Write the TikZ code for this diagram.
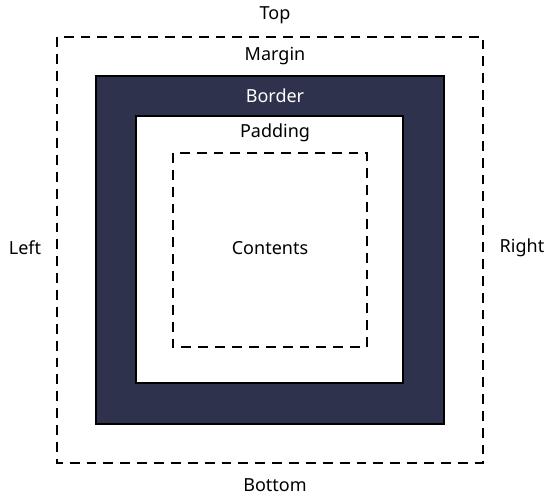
\documentclass[tikz,border=0pt]{standalone}
\usepackage{fontspec}
\setmainfont{Noto Sans}
\usetikzlibrary{positioning}
\definecolor{boxNavy}{RGB}{46,50,77}
\tikzset{
  dashbox/.style={draw=black, line width=1.5pt, dash pattern=on 7pt off 5pt},
  solidbox/.style={draw=black, line width=1.4pt},
  lbl/.style={font=\fontsize{12.8}{15}\selectfont, inner sep=0pt}
}

\begin{document}
\begin{tikzpicture}[x=0.025cm, y=-0.025cm]
				\useasboundingbox (0,0) rectangle (550,498);
				% Margin area
				\draw[dashbox] (57,37) rectangle (483,463);
				% Border and padding
				\fill[boxNavy, solidbox] (96,76) rectangle (444,424);
				\fill[white, solidbox] (136,116) rectangle (403,383);
				% Contents area
				\draw[dashbox] (173,153) rectangle (367,347);
				% Labels
				\node[lbl] (top) at (275,15) {Top};
				\node[lbl] (margin) at (275,56) {Margin};
				\node[lbl, white] (border) at (275,96) {Border};
				\node[lbl] (padding) at (275,133) {Padding};
				\node[lbl] (contents) at (270,248) {Contents};
				\node[lbl] (left) at (25,248) {Left};
				\node[lbl] (right) at (522,248) {Right};
				\node[lbl] (bottom) at (275,485) {Bottom};
			\end{tikzpicture}
\end{document}
